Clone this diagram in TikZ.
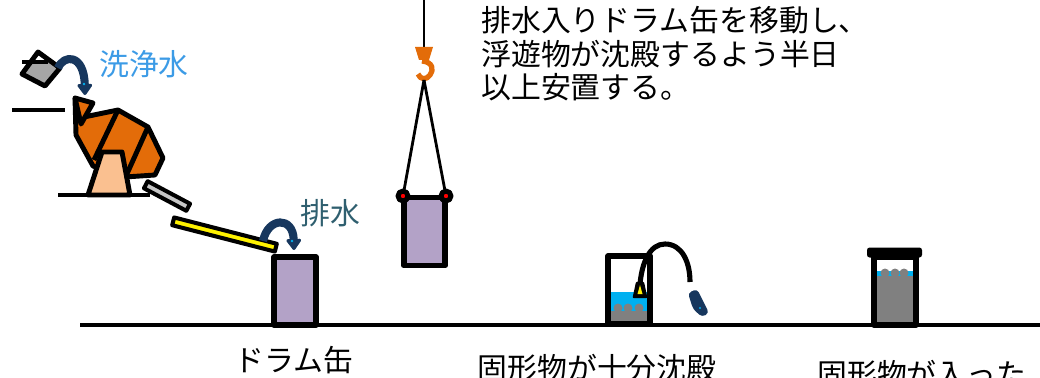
\documentclass[tikz,border=0pt]{standalone}
\usepackage{fontspec}
\setmainfont{Noto Sans CJK JP}
\usepackage{tikz}
\usetikzlibrary{arrows.meta}
\definecolor{drumpurple}{HTML}{B3A2C7}
\definecolor{mixorange}{HTML}{E36C09}
\definecolor{peach}{HTML}{FAC090}
\definecolor{flownavy}{HTML}{17375E}
\definecolor{water}{HTML}{00B0F0}
\definecolor{sludge}{HTML}{808080}
\definecolor{washblue}{HTML}{3C9BE6}
\definecolor{drainteal}{HTML}{2F5F6F}
\tikzstyle{drum} = [rectangle, 
draw=black, 
line width=3.3pt, 
fill=drumpurple, 
minimum width=0.83cm, 
minimum height=1.36cm, 
inner sep=0pt]
\tikzstyle{tank} = [drum, fill=none, minimum height=1.36cm]
\tikzstyle{lug} = [circle, draw=black, line width=2.8pt, fill=red, minimum size=0.2cm, inner sep=0pt]
\tikzstyle{bar} = [rectangle, draw=black, line width=2.3pt, inner sep=0pt, minimum height=0.16cm]
\tikzstyle{rope} = [line width=1.6pt]
\tikzstyle{flow} = [line width=4.6pt, flownavy, -{Triangle[round, length=7pt, width=9.5pt]}]
\tikzstyle{jtext} = [font=\fontsize{17}{19}\selectfont, inner sep=0pt]
\tikzstyle{thickline} = [line width=2.6pt]
\tikzstyle{outline} = [line width=2.8pt]

\begin{document}
\begin{tikzpicture}[x=0.02cm, y=-0.02cm, line join=round]
    \useasboundingbox (0,0) rectangle (1040,378);
    \clip (0,0) rectangle (1040,378);

    % ground and shelves
    \draw [thickline] (80,325) -- (1040,325);
    \draw [thickline] (12,110) -- (65,110);
    \draw [thickline] (58,195) -- (150,195);

    % bucket of wash water
    \fill [gray!70] (31,62) -- (52,62) -- (60,68) -- (45,86) -- (22,74) -- cycle;
    \draw [outline] (38,52) -- (60,68) -- (45,86) -- (22,74) -- cycle;
    \draw [outline] (22,62) -- (48,62);
    \draw [flow] (58,68) .. controls (64,54) and (84,54) .. (85,95);
    \fill [water] (84,84) circle (1.3);

    % mixer drum
    \draw [outline, fill=mixorange] (75,98) -- (76,135) -- (93,166) -- (125,177) -- (155,175) -- (163,158) -- (148,127) -- (118,110) -- (84,117) -- cycle;
    \draw [outline] (118,110) -- (94,160);
    \draw [outline] (148,127) -- (126,176);
    \draw [outline, fill=mixorange] (75,98) -- (93,103) -- (81,124) -- cycle;
    \draw [outline, fill=peach] (88,195) -- (102,152) -- (122,152) -- (130,195) -- cycle;

    % chutes
    \node (chute1) [bar, fill=gray!45, minimum width=0.96cm, rotate=-28] at (167,196) {};
    \node (chute2) [bar, fill=yellow, minimum width=2.12cm, rotate=-14.4] at (224.5,234.5) {};

    % drain drum
    \node (drum1) [drum] at (295,291) {};
    \draw [flow] (263,241) .. controls (268,217) and (293,216) .. (294,250);
    \fill [water] (292,241) circle (1.3);

    % crane with drum
    \coordinate (top) at (424,0);
    \coordinate (hooktop) at (424,48);
    \coordinate (hook) at (424,80);
    \draw [rope] (top) -- (hooktop);
    \fill [mixorange] (415,47) -- (433,47) -- (429,60) -- (419,60) -- cycle;
    \draw [mixorange, line width=3pt] (422,61) .. controls (433,62) and (434,70) .. (430,75) .. controls (427,80) and (420,80) .. (418,74);
    \node (drum2) [drum] at (424.5,231.5) {};
    \coordinate (lugl) at (403,196);
    \coordinate (lugr) at (446,196);
    \draw [rope] (hook) -- (lugl);
    \draw [rope] (hook) -- (lugr);
    \node (ringl) [lug] at (lugl) {};
    \node (ringr) [lug] at (lugr) {};

    % settled drum with pump hose
    \fill [water] (611,292) rectangle (647,322);
    \fill [sludge] (611,311) rectangle (647,322);
    \foreach \x in {618,628,639}
        \fill [sludge] (\x,308) circle (4.5);
    \node (drum3) [tank] at (629,290) {};
    \draw [line width=2.9pt] (640,284) .. controls (642,262) and (650,244) .. (665,244) .. controls (682,244) and (690,262) .. (690,282);
    \draw [line width=1.4pt, fill=black] (634,297) -- (637,283) -- (643,283) -- (646,297) -- cycle;
    \fill [yellow] (637.5,294) -- (640,285) -- (642.5,294) -- cycle;
    \fill [flownavy, rounded corners=2pt] (688,293) -- (697,289) -- (709,313) -- (702,317) -- (693,309) -- cycle;
    \fill [water] (700,308) circle (1.2);

    % drum of solids
    \fill [water] (876,271) rectangle (914,277);
    \fill [sludge] (876,276) rectangle (914,323);
    \foreach \x in {885,895,904}
        \fill [sludge] (\x,273) circle (4.5);
    \node (drum4) [tank] at (895,291) {};
    \node (lid) [rectangle, rounded corners=1.5pt, fill=black, minimum width=1.1cm, minimum height=0.2cm, inner sep=0pt] at (894.5,252.5) {};

    % labels
    \node (wash) [jtext, text=washblue, anchor=base] at (144,76) {洗浄水};
    \node (drain) [jtext, text=drainteal, anchor=base] at (330,224) {排水};
    \node (note) [jtext, anchor=north west, align=left, font=\fontsize{17}{19.1}\selectfont] at (481,6) {排水入りドラム缶を移動し、\\浮遊物が沈殿するよう半日\\以上安置する。};
    \node (cap1) [jtext, anchor=base] at (294,371) {ドラム缶};
    \node (cap2) [jtext, anchor=base] at (597,379) {固形物が十分沈殿};
    \node (cap3) [jtext, anchor=base west] at (817,385) {固形物が入った};
\end{tikzpicture}
\end{document}
